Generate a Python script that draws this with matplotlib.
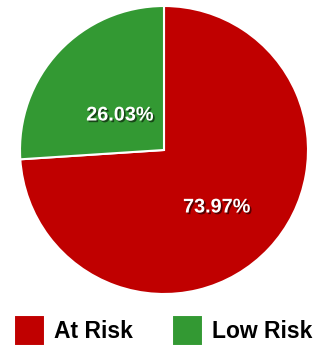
import matplotlib.pyplot as plt
import matplotlib.patheffects as pe
import numpy as np

labels = ['At Risk', 'Low Risk']
values = [73.97, 26.03]
colors = ['#c00000', '#339933']

fig = plt.figure(figsize=(3.22, 3.47), dpi=100)
# pie centre ~ (164,150) px, radius ~144 px
ax = fig.add_axes([20 / 322, 53 / 347, 288 / 322, 288 / 347])

wedges, texts, autotexts = ax.pie(values, colors=colors, startangle=90, counterclock=False,
                                  autopct='%.2f%%', pctdistance=0.54,
                                  wedgeprops=dict(edgecolor='white', linewidth=1.5),
                                  textprops=dict(color='white', fontsize=14.3,
                                                 fontweight='bold', family='Liberation Sans'))
ax.set_xlim(-1, 1)
ax.set_ylim(-1, 1)
ax.set_aspect('equal')

# label placement (distance from centre, angle nudge in degrees)
dists = [0.54, 0.39]
nudges = [-4, 4.6]
for w, t, d, n in zip(wedges, autotexts, dists, nudges):
    ang = np.deg2rad((w.theta1 + w.theta2) / 2 + n)
    t.set_position((d * np.cos(ang), d * np.sin(ang)))
    t.set_path_effects([pe.SimplePatchShadow(offset=(1.2, -1.2), shadow_rgbFace='black', alpha=0.55),
                        pe.Normal()])

fig.legend(wedges, labels, loc='lower left', bbox_to_anchor=(14 / 322, 1 / 347),
           ncol=2, frameon=False, borderpad=0, borderaxespad=0,
           prop=dict(family='Liberation Sans', weight='bold', size=16.5),
           handlelength=1.35, handleheight=1.7, handletextpad=0.4, columnspacing=1.7)

fig.savefig('out.png', dpi=100)
